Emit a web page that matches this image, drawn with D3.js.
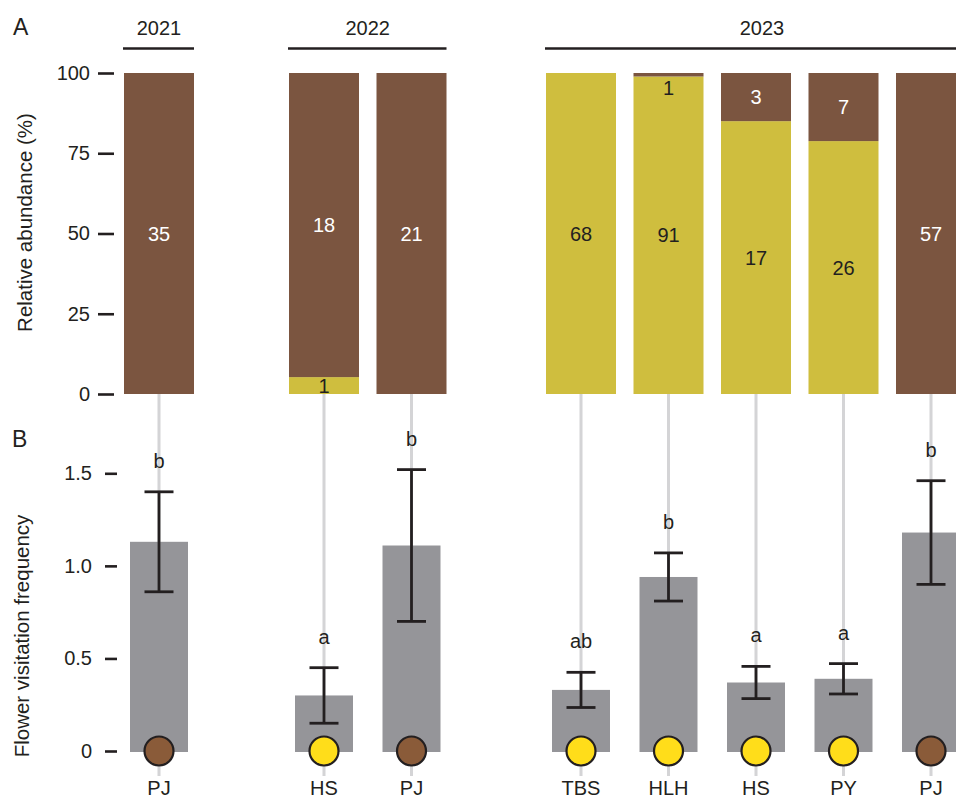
<!DOCTYPE html>
<html>
<head>
<meta charset="utf-8">
<script src="https://cdn.jsdelivr.net/npm/d3@7"></script>
<style>
  html, body { margin: 0; padding: 0; background: #fff; overflow: hidden; }
  svg { display: block; font-family: "Liberation Sans", Arial, Helvetica, sans-serif; }
</style>
</head>
<body>
<svg id="chart" width="956" height="799"></svg>
<script>
// Visitor species, grouped by survey year
const years = ["2021", "2022", "2023"];
const categories = ["PJ", "HS", "PJ", "TBS", "HLH", "HS", "PY", "PJ"];
const categoryYear = ["2021", "2022", "2022", "2023", "2023", "2023", "2023", "2023"];

// Panel A: counts of yellow-morph (bottom) and brown-morph (top) individuals
const yellowCounts = [0, 1, 0, 68, 91, 17, 26, 0];
const brownCounts = [35, 18, 21, 0, 1, 3, 7, 57];
const abundanceTicks = [0, 25, 50, 75, 100];

// Panel B: flower visitation frequency, mean ± SE, with significance letters
const visitMean = [1.13, 0.30, 1.11, 0.33, 0.94, 0.37, 0.39, 1.18];
const visitSE = [0.27, 0.15, 0.41, 0.095, 0.13, 0.087, 0.082, 0.28];
const sigLetters = ["b", "a", "b", "ab", "b", "a", "a", "b"];
const visitTicks = [0, 0.5, 1.0, 1.5];

// Colour morph of each visitor species (dot at the base of panel B)
const speciesMorph = ["brown", "yellow", "brown", "yellow", "yellow", "yellow", "yellow", "brown"];

const colors = {
  brownBar: "#7b5540",
  yellowBar: "#cfbe3e",
  brownDot: "#8a5b39",
  yellowDot: "#ffdd1a",
  grayBar: "#959599",
  guide: "#d4d4d6",
  ink: "#231f20"
};

const svg = d3.select("#chart");
const FONT = 20;

// ---- horizontal layout: one band scale per year facet ----
const step = 87.5, bandW = 70;
const facetStart = { "2021": 124, "2022": 289, "2023": 546 };
const xFacet = {};
years.forEach(yr => {
  const ids = d3.range(categories.length).filter(i => categoryYear[i] === yr);
  const start = facetStart[yr];
  // outer padding of half a gap keeps single-bar facets at the same step
  xFacet[yr] = d3.scaleBand()
    .domain(ids)
    .range([start - (step - bandW) / 2, start + ids.length * step - (step - bandW) / 2])
    .paddingInner((step - bandW) / step)
    .paddingOuter((step - bandW) / step / 2);
});
const xMid = i => xFacet[categoryYear[i]](i) + xFacet[categoryYear[i]].bandwidth() / 2;
const xLeft = i => xFacet[categoryYear[i]](i);
const bw = i => xFacet[categoryYear[i]].bandwidth();
const facetEdges = yr => {
  const ids = xFacet[yr].domain();
  return [xLeft(ids[0]), xLeft(ids[ids.length - 1]) + bw(ids[ids.length - 1])];
};

// ---- vertical scales ----
const yA = d3.scaleLinear().domain([0, 100]).range([394, 73]);
const yB = d3.scaleLinear().domain([0, 1.5]).range([751, 473.3]);

const idx = d3.range(categories.length);

// guide lines linking both panels
svg.append("g").selectAll("line").data(idx).join("line")
  .attr("x1", i => xMid(i)).attr("x2", i => xMid(i))
  .attr("y1", yA(0)).attr("y2", 776)
  .attr("stroke", colors.guide).attr("stroke-width", 3);

// ---- year headers ----
years.forEach(yr => {
  const [r0, r1] = facetEdges(yr);
  const g = svg.append("g");
  g.append("line")
    .attr("x1", r0 - 1).attr("x2", yr === "2023" ? r1 + 14 : r1)
    .attr("y1", 48.5).attr("y2", 48.5)
    .attr("stroke", colors.ink).attr("stroke-width", 2.4);
  g.append("text")
    .attr("x", yr === "2023" ? 762 : (r0 + r1) / 2)
    .attr("y", 35)
    .attr("text-anchor", "middle")
    .attr("font-size", FONT)
    .attr("fill", colors.ink)
    .text(yr);
});

// ---- panel A: stacked relative abundance ----
const stackRows = idx.map(i => {
  const total = yellowCounts[i] + brownCounts[i];
  return { i, yellow: yellowCounts[i] / total * 100, brown: brownCounts[i] / total * 100 };
});
const stacked = d3.stack().keys(["yellow", "brown"])(stackRows);
const segFill = { yellow: colors.yellowBar, brown: colors.brownBar };
const segCount = { yellow: yellowCounts, brown: brownCounts };

const gA = svg.append("g");
stacked.forEach(layer => {
  gA.append("g").selectAll("rect")
    .data(layer.filter(d => d[1] - d[0] > 0))
    .join("rect")
    .attr("x", d => xLeft(d.data.i))
    .attr("width", d => bw(d.data.i))
    .attr("y", d => yA(d[1]))
    .attr("height", d => yA(d[0]) - yA(d[1]))
    .attr("fill", segFill[layer.key]);
});
stacked.forEach(layer => {
  gA.append("g").selectAll("text")
    .data(layer.filter(d => d[1] - d[0] > 0))
    .join("text")
    .each(function (d) {
      const top = yA(d[1]), bottom = yA(d[0]);
      const thin = bottom - top < 12;
      // a sliver too thin for its label gets it just below, on the next segment
      const cy = thin ? bottom + 12 : (top + bottom) / 2;
      const onBrown = thin ? layer.key !== "brown" : layer.key === "brown";
      d3.select(this)
        .attr("x", xMid(d.data.i))
        .attr("y", cy)
        .attr("dy", "0.35em")
        .attr("text-anchor", "middle")
        .attr("font-size", FONT)
        .attr("fill", onBrown ? "#ffffff" : colors.ink)
        .text(segCount[layer.key][d.data.i]);
    });
});

// axis A
const axisA = svg.append("g")
  .attr("transform", "translate(114,0)")
  .call(d3.axisLeft(yA).tickValues(abundanceTicks).tickSize(16).tickPadding(8));
axisA.select(".domain").remove();
axisA.selectAll(".tick line").attr("stroke", colors.ink).attr("stroke-width", 2.6);
axisA.selectAll(".tick text").attr("font-size", FONT).attr("fill", colors.ink)
  .attr("font-family", "Liberation Sans, Arial, sans-serif");

svg.append("text")
  .attr("transform", `translate(32,${(yA(0) + yA(100)) / 2 - 11}) rotate(-90)`)
  .attr("text-anchor", "middle")
  .attr("font-size", 20.5)
  .attr("fill", colors.ink)
  .text("Relative abundance (%)");

svg.append("text").attr("x", 13).attr("y", 35).attr("font-size", 23).attr("fill", colors.ink).text("A");

// ---- panel B: visitation frequency ----
const gB = svg.append("g");
const barBW = 58;
gB.selectAll("rect.vbar").data(idx).join("rect")
  .attr("class", "vbar")
  .attr("x", i => xMid(i) - barBW / 2)
  .attr("width", barBW)
  .attr("y", i => yB(visitMean[i]))
  .attr("height", i => yB(0) - yB(visitMean[i]) + 1)
  .attr("fill", colors.grayBar);

// error bars
const eb = gB.selectAll("g.err").data(idx).join("g").attr("class", "err")
  .attr("stroke", colors.ink).attr("stroke-width", 2.8);
eb.append("line")
  .attr("x1", i => xMid(i)).attr("x2", i => xMid(i))
  .attr("y1", i => yB(visitMean[i] - visitSE[i]))
  .attr("y2", i => yB(visitMean[i] + visitSE[i]));
eb.append("line")
  .attr("x1", i => xMid(i) - 14.5).attr("x2", i => xMid(i) + 14.5)
  .attr("y1", i => yB(visitMean[i] + visitSE[i]))
  .attr("y2", i => yB(visitMean[i] + visitSE[i]));
eb.append("line")
  .attr("x1", i => xMid(i) - 14.5).attr("x2", i => xMid(i) + 14.5)
  .attr("y1", i => yB(visitMean[i] - visitSE[i]))
  .attr("y2", i => yB(visitMean[i] - visitSE[i]));

// significance letters
gB.selectAll("text.sig").data(idx).join("text")
  .attr("class", "sig")
  .attr("x", i => xMid(i))
  .attr("y", i => yB(visitMean[i] + visitSE[i]) - 31)
  .attr("dy", "0.35em")
  .attr("text-anchor", "middle")
  .attr("font-size", FONT)
  .attr("fill", colors.ink)
  .text(i => sigLetters[i]);

// morph dots
gB.selectAll("circle").data(idx).join("circle")
  .attr("cx", i => xMid(i))
  .attr("cy", yB(0))
  .attr("r", 14.5)
  .attr("fill", i => speciesMorph[i] === "brown" ? colors.brownDot : colors.yellowDot)
  .attr("stroke", colors.ink)
  .attr("stroke-width", 2.2);

// category labels
gB.selectAll("text.cat").data(idx).join("text")
  .attr("class", "cat")
  .attr("x", i => xMid(i))
  .attr("y", 795)
  .attr("text-anchor", "middle")
  .attr("font-size", FONT)
  .attr("fill", colors.ink)
  .text(i => categories[i]);

// axis B
const axisB = svg.append("g")
  .attr("transform", "translate(117,0)")
  .call(d3.axisLeft(yB).tickValues(visitTicks).tickSize(12).tickPadding(13)
    .tickFormat(d => d === 0 ? "0" : d3.format(".1f")(d)));
axisB.select(".domain").remove();
axisB.selectAll(".tick line").attr("stroke", colors.ink).attr("stroke-width", 2.6);
axisB.selectAll(".tick text").attr("font-size", FONT).attr("fill", colors.ink)
  .attr("font-family", "Liberation Sans, Arial, sans-serif");

svg.append("text")
  .attr("transform", `translate(29,636) rotate(-90)`)
  .attr("text-anchor", "middle")
  .attr("font-size", 20.5)
  .attr("fill", colors.ink)
  .text("Flower visitation frequency");

svg.append("text").attr("x", 12).attr("y", 447).attr("font-size", 23).attr("fill", colors.ink).text("B");
</script>
</body>
</html>
